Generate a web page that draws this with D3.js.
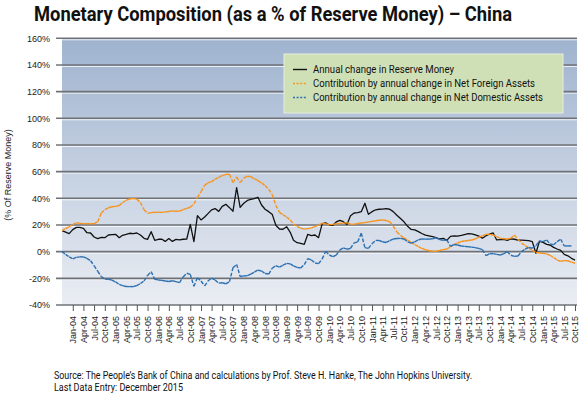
<!DOCTYPE html>
<html>
<head>
<meta charset="utf-8">
<script src="https://cdn.jsdelivr.net/npm/d3@7"></script>
<style>
  body { margin: 0; background: #fff; }
  svg { display: block; }
</style>
</head>
<body>
<svg width="586" height="398"></svg>
<script>
// first month plotted, then one value per month
const startMonth = "Oct-03";

const tickLabels = [
  "Jan-04","Apr-04","Jul-04","Oct-04","Jan-05","Apr-05","Jul-05","Oct-05",
  "Jan-06","Apr-06","Jul-06","Oct-06","Jan-07","Apr-07","Jul-07","Oct-07",
  "Jan-08","Apr-08","Jul-08","Oct-08","Jan-09","Apr-09","Jul-09","Oct-09",
  "Jan-10","Apr-10","Jul-10","Oct-10","Jan-11","Apr-11","Jul-11","Oct-11",
  "Jan-12","Apr-12","Jul-12","Oct-12","Jan-13","Apr-13","Jul-13","Oct-13",
  "Jan-14","Apr-14","Jul-14","Oct-14","Jan-15","Apr-15","Jul-15","Oct-15"
];

const yTicks = [-40, -20, 0, 20, 40, 60, 80, 100, 120, 140, 160];

// Annual change in Reserve Money (%)
const reserveMoney = [
  15.7, 14.7, 13.5, 16.5, 18.2, 18.2, 17.5, 14.2, 14, 11,
  9.8, 10.7, 10.5, 12.5, 12.8, 13, 10.5, 12.3, 13, 13.8,
  13.6, 14, 12.5, 10, 9.2, 15, 8.5, 9.3, 9.3, 7.7,
  9.8, 7.7, 9.2, 8.8, 9.3, 9.5, 20.5, 7.5, 27, 23.8,
  26, 28.5, 31.3, 32.3, 30.2, 34, 35.5, 33, 30.3, 48,
  33.2, 36.3, 38.4, 39.2, 39.7, 40.8, 35, 31.8, 30, 27.8,
  19.8, 17, 16.8, 18.7, 14.5, 8.5, 6.7, 6.2, 5.5, 13,
  12, 12.5, 10.5, 21, 21.6, 20, 19.8, 22.3, 23.5, 22.5,
  20.4, 27, 29, 29.2, 30, 36.3, 28, 30, 31.4, 31.8,
  31.9, 32.3, 31.8, 30, 27.3, 24.8, 22.4, 19, 16.7, 16.3,
  15, 13.6, 12.4, 11.8, 11.2, 10.6, 9.5, 10, 8.5, 11.5,
  11.8, 11.7, 12.2, 12.8, 13.5, 13.4, 12.5, 11.6, 10.1, 12,
  13.2, 14, 8.8, 9, 9.2, 8.5, 9.6, 9.3, 8.7, 8.6,
  8.4, 8.2, 7.5, -1.2, 7.8, 7, 5.5, 5, 3.2, 2,
  1, -2, -3.1, -5, -6.3
];

// Contribution by annual change in Net Foreign Assets (%)
const foreignAssets = [
  15.7, 17.2, 18.7, 20.2, 21.7, 21.2, 21, 21, 21, 20.9,
  22.5, 29, 31.5, 32.9, 33.7, 34, 34.6, 36.7, 38.5, 39.5,
  39.9, 39.4, 36.9, 31.5, 28.7, 29.3, 29.5, 29.5, 29.5, 29.8,
  30.1, 30.6, 30.3, 30.4, 31.5, 32.5, 33.3, 35.8, 40.5, 45,
  49.8, 51.6, 52.5, 54.4, 55.7, 57, 58, 58, 51.8, 56,
  51.8, 55.2, 56.6, 56.3, 54.6, 53.3, 51.6, 49.6, 46.8, 42.7,
  34.8, 29.5, 27.7, 26, 23.7, 20.7, 18.9, 17.6, 16.9, 17.3,
  17.8, 18.8, 20, 21.3, 21, 20.1, 20.5, 20.9, 21.2, 21.4,
  21.7, 20.5, 20.5, 21.2, 21.5, 21.8, 22.2, 22.7, 23.2, 23.6,
  23.7, 23.4, 22.4, 19.2, 14.8, 12.2, 10.3, 8.6, 7, 5.2,
  3.8, 2.5, 1.5, 0.7, 0.3, 0.2, 0.9, 1.5, 2, 3.6,
  5.2, 6.5, 7.6, 8, 8.4, 8.7, 9.5, 10.8, 11.8, 13,
  13, 12.5, 11.3, 10, 9.7, 9.5, 10, 12.5, 9.2, 6.4,
  4.6, 2.8, 1, -0.5, -1, -1.3, -1.7, -2.7, -4.4, -6.3,
  -7.2, -6.7, -6.8, -7.9, -8.7
];

// Contribution by annual change in Net Domestic Assets (%)
const domesticAssets = [
  0, -2, -4, -5.4, -4.3, -3.9, -3.9, -5, -6.8, -10.5,
  -14.7, -18.7, -20.6, -20.7, -21.4, -22.7, -24.5, -25.5, -26.1, -26.2,
  -26.2, -25.4, -23.9, -22, -17.8, -15, -20.8, -21.2, -21.5, -22,
  -22.4, -21.8, -22.5, -23.2, -19, -16.2, -17, -26, -19.5, -22,
  -25.7, -22, -19.8, -21.3, -23.6, -23.3, -24.1, -22.5, -12, -9.5,
  -18.6, -18.2, -18, -16.8, -15.3, -13.8, -14.5, -16.4, -16.8, -12.3,
  -10.5, -11.6, -10.1, -8.8, -9.2, -10.7, -11.8, -12.3, -9.7, -5.2,
  -6.2, -8.5, -9, -5.5, 0.3, -2.5, -3.8, -2.6, 1.4, 2.8,
  1.8, 2.5, 6.6, 7.4, 13.8, 3, 2.5, 5.9, 8.5, 8.4,
  7.4, 6.9, 8.3, 9.5, 9.9, 10, 9.5, 7.3, 6.4, 7.4,
  8.9, 9.5, 9.4, 9.4, 9.7, 10.4, 9, 8.5, 8.8, 4,
  5.4, 5, 4.2, 4, 3.7, 3.4, 3, 2.4, 1.5, -3,
  -1.5, -1.5, -2, -2.5, -1.5, 0, -2.7, -3.5, -3.3, 0,
  2, 3.2, 2.6, 4.5, 8, 7.5, 8.7, 5.8, 5.2, 7.5,
  9.3, 4.3, 4.3, 4.3, null
];

const legendLabels = [
  "Annual change in Reserve Money",
  "Contribution by annual change in Net Foreign Assets",
  "Contribution by annual change in Net Domestic Assets"
];

const svg = d3.select("svg");
const plot = {left: 62, right: 577, top: 38.3, bottom: 305};

const parseMonth = d3.timeParse("%b-%y");
const first = parseMonth(startMonth);
const months = d3.range(reserveMoney.length).map(i => d3.timeMonth.offset(first, i));

const x = d3.scaleTime()
  .domain([months[0], months[months.length - 1]])
  .range([plot.left, 575]);
const y = d3.scaleLinear()
  .domain([-40, 160])
  .range([plot.bottom, plot.top]);

// title
svg.append("text")
  .attr("x", 273).attr("y", 21)
  .attr("text-anchor", "middle")
  .attr("textLength", 478).attr("lengthAdjust", "spacingAndGlyphs")
  .style("font-family", "Roboto, 'Noto Sans', sans-serif")
  .style("font-weight", "bold")
  .style("font-size", "21px")
  .style("fill", "#111")
  .text("Monetary Composition (as a % of Reserve Money) \u2013 China");

// plot background gradient
const grad = svg.append("defs").append("linearGradient")
  .attr("id", "bg").attr("x1", 0).attr("y1", 0).attr("x2", 0).attr("y2", 1);
grad.append("stop").attr("offset", "0%").attr("stop-color", "#9fb3cf");
grad.append("stop").attr("offset", "100%").attr("stop-color", "#eaedf3");

svg.append("rect")
  .attr("x", plot.left).attr("y", plot.top)
  .attr("width", plot.right - plot.left).attr("height", plot.bottom - plot.top)
  .attr("fill", "url(#bg)");

// gridlines with a light edge below
const grid = svg.append("g");
grid.selectAll(".hl").data(yTicks).join("line")
  .attr("x1", plot.left).attr("x2", plot.right)
  .attr("y1", d => y(d) + 1.5).attr("y2", d => y(d) + 1.5)
  .attr("stroke", "#ffffff").attr("stroke-width", 1).attr("opacity", 0.8);
grid.selectAll(".gl").data(yTicks).join("line")
  .attr("x1", plot.left - 6).attr("x2", plot.right)
  .attr("y1", d => y(d)).attr("y2", d => y(d))
  .attr("stroke", "#6f7378").attr("stroke-width", 1.6);

// y axis labels
const yAxis = d3.axisLeft(y).tickValues(yTicks).tickSize(0).tickPadding(12)
  .tickFormat(d => d + "%");
svg.append("g")
  .attr("transform", `translate(${plot.left},0)`)
  .call(yAxis)
  .call(g => g.select(".domain").remove())
  .call(g => g.selectAll("text")
    .style("font-family", "'Liberation Sans', Arial, sans-serif")
    .style("font-size", "9px").style("fill", "#222"));

svg.append("text")
  .attr("transform", "translate(11,175) rotate(-90)")
  .attr("text-anchor", "middle")
  .style("font-family", "'Liberation Sans', Arial, sans-serif")
  .style("font-size", "9px").style("fill", "#222")
  .text("(% Of Reserve Money)");

// x axis
const xAxis = d3.axisBottom(x)
  .tickValues(tickLabels.map(parseMonth))
  .tickSize(6).tickSizeOuter(0)
  .tickFormat(d3.timeFormat("%b-%y"));
svg.append("g")
  .attr("transform", `translate(0,${plot.bottom})`)
  .call(xAxis)
  .call(g => g.select(".domain").remove())
  .call(g => g.selectAll(".tick line").attr("stroke", "#555"))
  .call(g => g.selectAll("text")
    .attr("transform", "rotate(-90)")
    .attr("text-anchor", "end")
    .attr("x", -11).attr("y", 0).attr("dy", "0.33em")
    .style("font-family", "'Liberation Sans', Arial, sans-serif")
    .style("font-size", "9px").style("fill", "#222"));

// series
const line = d3.line()
  .defined(d => d[1] != null)
  .x(d => x(d[0]))
  .y(d => y(d[1]));

const lines = svg.append("g");
function drawSeries(values, color, dashed) {
  const pts = values.map((v, i) => [months[i], v]).filter(d => d[1] != null);
  if (!dashed) {
    lines.append("path").datum(pts)
      .attr("d", line)
      .attr("fill", "none").attr("stroke", color)
      .attr("stroke-width", 1.3).attr("stroke-linejoin", "round");
  } else {
    // dash pattern restarts on every segment, as in the source chart
    lines.append("g").selectAll("path").data(d3.pairs(pts)).join("path")
      .attr("d", line)
      .attr("fill", "none").attr("stroke", color)
      .attr("stroke-width", 1.4)
      .attr("stroke-dasharray", "3.7,1.7");
  }
}
drawSeries(reserveMoney, "#111111", false);
drawSeries(foreignAssets, "#f7941d", true);
drawSeries(domesticAssets, "#2b6fb0", true);

// legend
const legend = svg.append("g");
legend.append("rect")
  .attr("x", 284).attr("y", 54).attr("width", 279).attr("height", 59)
  .attr("fill", "#d0e0b6").attr("stroke", "#e6eddc").attr("stroke-width", 1);
const legendColors = ["#111111", "#f7941d", "#2b6fb0"];
const legendDash = [null, "2,1.6", "2,1.6"];
const legendWidths = [141, 222, 230];
const rows = legend.selectAll("g.row").data(legendLabels).join("g")
  .attr("transform", (d, i) => `translate(0,${69.5 + i * 14})`);
rows.append("line")
  .attr("x1", 293).attr("x2", 307)
  .attr("stroke", (d, i) => legendColors[i])
  .attr("stroke-width", 1.4)
  .attr("stroke-dasharray", (d, i) => legendDash[i]);
rows.append("text")
  .attr("x", 313).attr("dy", "0.35em")
  .attr("textLength", (d, i) => legendWidths[i]).attr("lengthAdjust", "spacingAndGlyphs")
  .style("font-family", "Roboto, sans-serif")
  .style("font-size", "10px").style("fill", "#111")
  .text(d => d);

// source note
const note = svg.append("g")
  .style("font-family", "Roboto, sans-serif")
  .style("font-size", "10px").style("fill", "#111");
note.append("text").attr("x", 54).attr("y", 379)
  .attr("textLength", 418).attr("lengthAdjust", "spacingAndGlyphs")
  .text("Source: The People\u2019s Bank of China and calculations by Prof. Steve H. Hanke, The John Hopkins University.");
note.append("text").attr("x", 54).attr("y", 391)
  .attr("textLength", 129).attr("lengthAdjust", "spacingAndGlyphs")
  .text("Last Data Entry: December 2015");
</script>
</body>
</html>
